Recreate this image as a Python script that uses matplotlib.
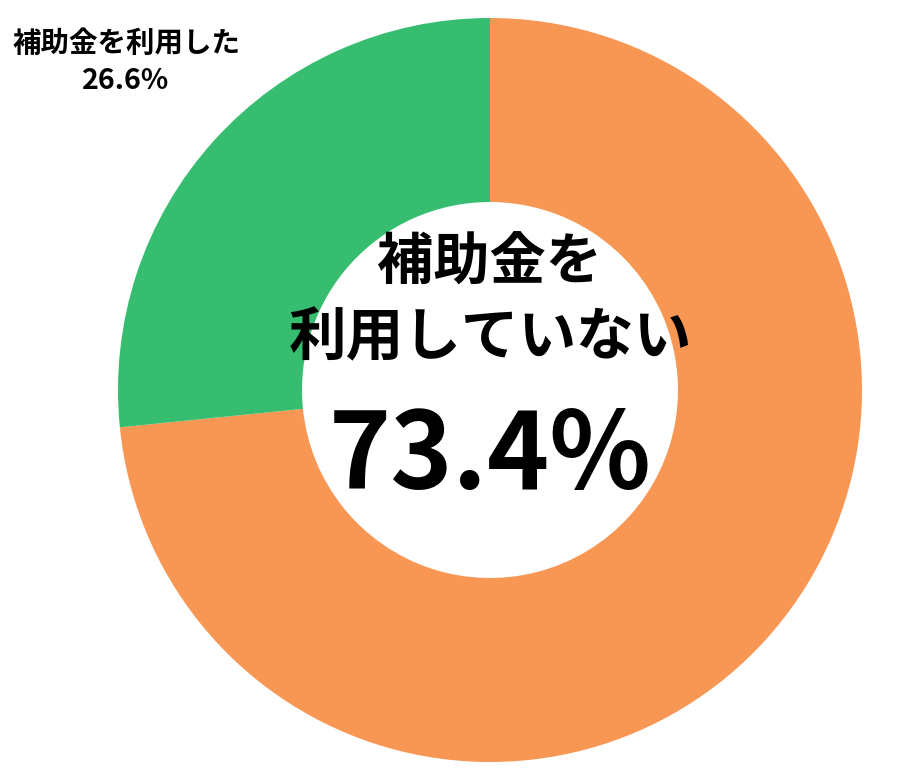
import matplotlib
matplotlib.use("Agg")
import matplotlib.pyplot as plt

plt.rcParams['font.family'] = ['Noto Sans CJK JP', 'DejaVu Sans']

labels = ['補助金を利用していない', '補助金を利用した']
values = [73.4, 26.6]
colors = ['#F89654', '#36BD6F']

fig = plt.figure(figsize=(9, 7.8), dpi=100)
ax = fig.add_axes([0, 0, 1, 1])

cx, cy, R, r_in = 490, 390, 372, 188
ax.pie(values, colors=colors, startangle=90, counterclock=False,
       center=(cx, cy), radius=R, frame=True,
       wedgeprops=dict(width=R - r_in, linewidth=0))
ax.set_xlim(0, 900)
ax.set_ylim(0, 780)
ax.set_aspect('equal')
ax.axis('off')

ax.text(cx, 780 - 263, '補助金を', ha='center', va='center', fontsize=40.5, fontweight='bold')
ax.text(cx, 780 - 338, '利用していない', ha='center', va='center', fontsize=41.5, fontweight='bold')
ax.text(cx, 780 - 458, f'{values[0]}%', ha='center', va='center', fontsize=76, fontweight='bold')

ax.text(126, 780 - 44, labels[1], ha='center', va='center', fontsize=20.5, fontweight='bold')
ax.text(126, 780 - 81, f'{values[1]}%', ha='center', va='center', fontsize=20.5, fontweight='bold')

fig.savefig('out.png', dpi=100)
